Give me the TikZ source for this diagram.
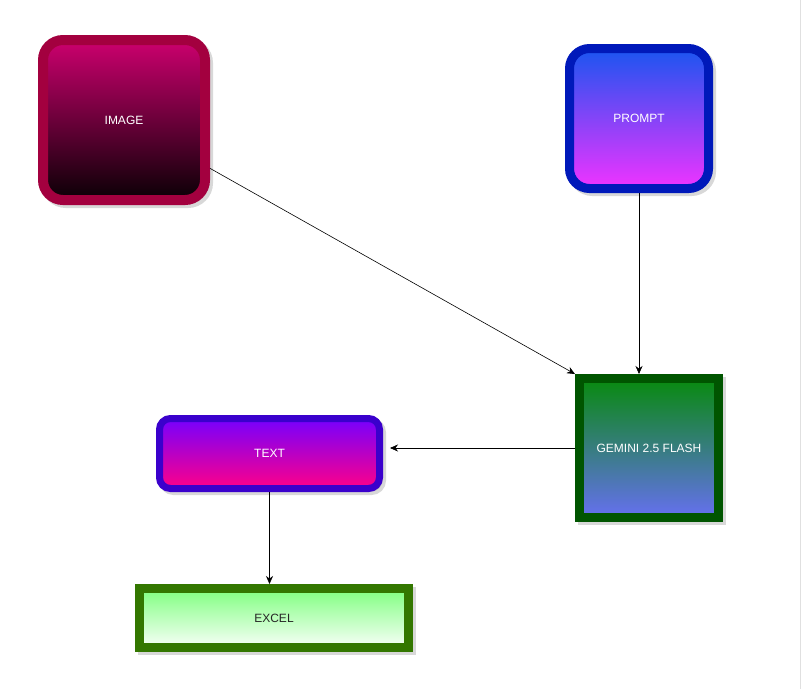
\documentclass[tikz,border=0pt]{standalone}
\usepackage{fontspec}
\setmainfont{Liberation Sans}
\usetikzlibrary{arrows.meta,shadows,calc}
\definecolor{imgtop}{HTML}{CC006E}
\definecolor{imgbot}{HTML}{0A0005}
\definecolor{imgline}{HTML}{A3003F}
\definecolor{prmtop}{HTML}{1A55F0}
\definecolor{prmbot}{HTML}{F033FF}
\definecolor{prmline}{HTML}{0019BA}
\definecolor{gemtop}{HTML}{088A0E}
\definecolor{gembot}{HTML}{6670F0}
\definecolor{gemline}{HTML}{005500}
\definecolor{txttop}{HTML}{7500FF}
\definecolor{txtbot}{HTML}{FF0088}
\definecolor{txtline}{HTML}{3A00CC}
\definecolor{xlstop}{HTML}{80FF80}
\definecolor{xlsbot}{HTML}{F8FFF8}
\definecolor{xlsline}{HTML}{337700}
\begin{document}
\begin{tikzpicture}[x=1pt,y=-1pt,
		box/.style={inner sep=0pt,font=\fontsize{12}{14}\selectfont,text=white,
			drop shadow={shadow xshift=3pt,shadow yshift=-3pt,opacity=0.3,fill=black!50,draw=black!50}},
		link/.style={line width=0.6,-{Stealth[length=8pt,width=7pt]}}]
			\useasboundingbox (0,0) rectangle (801,689);
			\fill [white] (0,0) rectangle (801,689);
			\draw [line width=1.2,black!12] (800.4,0) -- (800.4,689);
			\node [box,draw=imgline,line width=10,rounded corners=20,top color=imgtop,bottom color=imgbot,
				minimum width=162,minimum height=160] (image) at (124,120) {IMAGE};
			\node [box,draw=prmline,line width=9,rounded corners=20,top color=prmtop,bottom color=prmbot,
				minimum width=139,minimum height=140] (prompt) at (639,118.5) {PROMPT};
			\node [box,draw=gemline,line width=9,top color=gemtop,bottom color=gembot,
				minimum width=139,minimum height=139] (gemini) at (649,448) {GEMINI 2.5 FLASH};
			\node [box,draw=txtline,line width=7,rounded corners=11,top color=txttop,bottom color=txtbot,
				minimum width=220,minimum height=70] (text) at (269.5,453.5) {TEXT};
			\node [box,draw=xlsline,line width=9,top color=xlstop,bottom color=xlsbot,text=black!85,
				minimum width=269,minimum height=59] (excel) at (274,618) {EXCEL};
			\draw [link] (image) -- (gemini.north west);
			\draw [link] (prompt.south) -- (prompt.south |- gemini.north);
			\draw [link,shorten >=7pt] (gemini.west) -- (gemini.west -| text.east);
			\draw [link] (text.south) -- (text.south |- excel.north);
		\end{tikzpicture}
\end{document}
